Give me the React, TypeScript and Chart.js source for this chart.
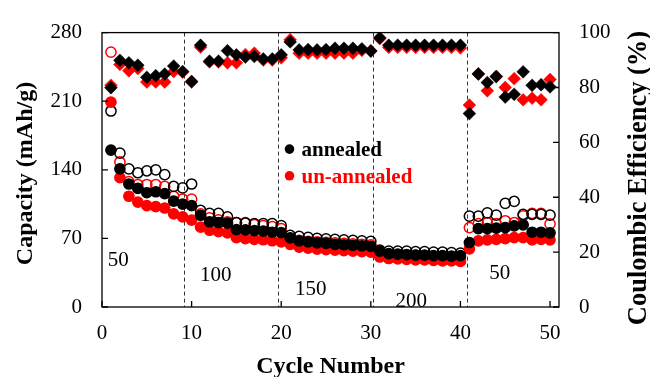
import React, { useEffect, useRef } from "react";
import { Chart, registerables } from "chart.js";

Chart.register(...registerables);

const cycles = [
  1, 2, 3, 4, 5, 6, 7, 8, 9, 10, 11, 12, 13, 14, 15, 16, 17, 18, 19, 20, 21, 22, 23, 24, 25,
  26, 27, 28, 29, 30, 31, 32, 33, 34, 35, 36, 37, 38, 39, 40, 41, 42, 43, 44, 45, 46, 47, 48, 49, 50,
];

// open black circles
const annealedDischarge = [
  200, 157, 141, 137, 139, 140, 135, 123, 121.5, 125.5, 98.5, 95.5, 95.5, 92, 86, 85.5, 85, 85, 85, 83,
  73, 72, 71, 70, 69.5, 69, 68.5, 68, 67.5, 67, 58, 57, 57, 57, 56.5, 56.5, 56, 56, 55.5, 55,
  92.7, 92.7, 96, 93.7, 105.8, 107.7, 94.6, 94.6, 94.6, 93.7,
];
// filled black circles
const annealedCharge = [
  160, 141, 125.5, 121, 116.6, 117.6, 115.6, 108, 105, 103.5, 93.6, 87, 86, 85.5, 79, 78.6, 78, 77.5, 76.3, 75.8,
  70.5, 67.5, 66.5, 65.5, 65, 64, 63.5, 63, 62.5, 62, 57, 54.5, 54, 53.5, 53, 53, 52.5, 52.5, 52, 52.5,
  65.8, 80, 80, 80.5, 81, 82.8, 83.8, 76.3, 76.3, 75.7,
];
// open red circles
const unannealedDischarge = [
  260, 148, 128, 125, 125, 125, 123, 113, 110, 110, 95, 91, 89, 87, 86, 86, 84, 83, 82, 80,
  70, 68, 67, 66.5, 66, 65.5, 65, 64.5, 64, 63.5, 55, 54, 53.5, 53, 53, 52.5, 52, 52, 51.5, 51.5,
  81, 85, 86, 85, 88, 86, 93, 95.6, 95.6, 84.8,
];
// filled red circles
const unannealedCharge = [
  209, 132, 113, 107, 103.5, 102.5, 101, 95, 92, 88.7, 81.5, 78.3, 77, 75.6, 70.7, 69.8, 69, 68.6, 67.6, 66.5,
  64, 61, 60, 59, 58.5, 58, 57.5, 57, 56.5, 56, 51, 49.5, 49, 48.5, 48, 48, 47.5, 47, 47, 46.5,
  59.2, 67.5, 68.5, 69, 69.7, 70.7, 70.7, 68.5, 69, 68.5,
];
// black diamonds (%)
const annealedCE = [
  79.9, 89.9, 89, 88.1, 83.7, 84.3, 84.9, 87.8, 85.8, 82.2, 95.4, 89.6, 89.6, 93.4, 91.9, 91.1, 91.3, 90.4, 90.4, 91.9,
  96.6, 93.7, 93.8, 93.7, 93.8, 94.3, 94.3, 94.3, 94.1, 93.3, 98.1, 95.4, 95.4, 95.4, 95.4, 95.4, 95.4, 95.4, 95.4, 95.4,
  70.5, 84.9, 81.8, 84, 76.5, 77.5, 85.7, 80.8, 81, 80.2,
];
// red diamonds (%)
const unannealedCE = [
  80.8, 88.4, 86.1, 86.9, 82, 82, 82, 85.8, 85.6, 82, 94.7, 89.3, 89.3, 89, 89, 92, 92.5, 90, 90, 90.8,
  97.4, 92.5, 92.5, 92.5, 92.5, 92.5, 92.5, 92.5, 93.5, 93.3, 97.8, 94.6, 94.6, 94.6, 94.6, 94.6, 94.6, 94.6, 94.6, 94.4,
  73.6, 85, 78.8, 84, 80, 83.2, 75.5, 76.1, 75.5, 82.9,
];

const rateBoundaries = [9.2, 19.6, 30.2, 40.7];
const rateLabels = ["50", "100", "150", "200", "50"];
const rateLabelX = [1.8, 12.7, 23.3, 34.5, 44.4];
const rateLabelY = [47, 32, 17.5, 6, 34];
const legendLabels = ["annealed", "un-annealed"];
const legendColors = ["#000000", "#ff0000"];

const SERIF = "'Liberation Serif', 'Times New Roman', serif";

function pts(ys: number[]) {
  return cycles.map((c, i) => ({ x: c, y: ys[i] }));
}

const decorPlugin = {
  id: "decor",
  beforeDatasetsDraw(chart: any) {
    const { ctx, chartArea } = chart;
    const xs = chart.scales.x;
    ctx.save();
    ctx.strokeStyle = "#333";
    ctx.lineWidth = 1;
    ctx.setLineDash([4, 3]);
    rateBoundaries.forEach((b) => {
      const px = Math.round(xs.getPixelForValue(b)) + 0.5;
      ctx.beginPath();
      ctx.moveTo(px, chartArea.top);
      ctx.lineTo(px, chartArea.bottom);
      ctx.stroke();
    });
    ctx.restore();
  },
  afterDatasetsDraw(chart: any) {
    const { ctx, chartArea } = chart;
    const xs = chart.scales.x;
    const yl = chart.scales.y;
    const yr = chart.scales.y1;
    ctx.save();
    // frame
    ctx.strokeStyle = "#000";
    ctx.lineWidth = 1.3;
    ctx.setLineDash([]);
    ctx.strokeRect(chartArea.left, chartArea.top, chartArea.right - chartArea.left, chartArea.bottom - chartArea.top);
    // inward ticks
    const tl = 6;
    ctx.beginPath();
    xs.ticks.forEach((t: any) => {
      const px = xs.getPixelForValue(t.value);
      ctx.moveTo(px, chartArea.bottom);
      ctx.lineTo(px, chartArea.bottom - tl);
    });
    yl.ticks.forEach((t: any) => {
      const py = yl.getPixelForValue(t.value);
      ctx.moveTo(chartArea.left, py);
      ctx.lineTo(chartArea.left + tl, py);
    });
    yr.ticks.forEach((t: any) => {
      const py = yr.getPixelForValue(t.value);
      ctx.moveTo(chartArea.right, py);
      ctx.lineTo(chartArea.right - tl, py);
    });
    ctx.stroke();

    // rate annotations
    ctx.fillStyle = "#000";
    ctx.font = `21px ${SERIF}`;
    ctx.textAlign = "center";
    ctx.textBaseline = "middle";
    rateLabels.forEach((lab, i) => {
      ctx.fillText(lab, xs.getPixelForValue(rateLabelX[i]), yl.getPixelForValue(rateLabelY[i]));
    });

    // legend
    const lx = chartArea.left + 187.5;
    const ly = chartArea.top + 116.5;
    legendLabels.forEach((lab, i) => {
      const y = ly + i * 26.7;
      ctx.fillStyle = legendColors[i];
      ctx.beginPath();
      ctx.arc(lx, y, 4.8, 0, Math.PI * 2);
      ctx.fill();
      ctx.font = `bold 21px ${SERIF}`;
      ctx.textAlign = "left";
      ctx.textBaseline = "alphabetic";
      ctx.fillText(lab, lx + 12, y + 6.7);
    });

    // axis titles
    ctx.fillStyle = "#000";
    ctx.font = `bold 24px ${SERIF}`;
    ctx.textAlign = "center";
    ctx.textBaseline = "alphabetic";
    ctx.fillText("Cycle Number", (chartArea.left + chartArea.right) / 2, 372.5);

    ctx.save();
    ctx.translate(32, 173.5);
    ctx.rotate(-Math.PI / 2);
    ctx.fillText("Capacity (mAh/g)", 0, 0);
    ctx.restore();

    ctx.save();
    ctx.font = `bold 26.5px ${SERIF}`;
    ctx.translate(646, 178);
    ctx.rotate(-Math.PI / 2);
    ctx.fillText("Coulombic Efficiency (%)", 0, 0);
    ctx.restore();

    ctx.restore();
  },
};

export default function App() {
  const ref = useRef<HTMLCanvasElement | null>(null);
  useEffect(() => {
    if (!ref.current) return;
    Chart.defaults.font.family = SERIF;
    Chart.defaults.color = "#000";
    const circle = (color: string, filled: boolean) => ({
      pointStyle: "circle",
      pointRadius: 5.1,
      pointHoverRadius: 5.1,
      pointBorderWidth: 1.5,
      borderColor: color,
      backgroundColor: filled ? color : "rgba(0,0,0,0)",
      pointBorderColor: color,
      pointBackgroundColor: filled ? color : "rgba(0,0,0,0)",
      showLine: false,
    });
    const diamond = (color: string) => ({
      pointStyle: "rectRot",
      pointRadius: 6.4,
      pointHoverRadius: 6.4,
      pointBorderWidth: 0.5,
      borderColor: color,
      backgroundColor: color,
      pointBorderColor: color,
      pointBackgroundColor: color,
      showLine: false,
      yAxisID: "y1",
    });
    const chart = new Chart(ref.current, {
      type: "scatter",
      data: {
        datasets: [
          { label: "annealed CE", data: pts(annealedCE), ...diamond("#000000") },
          { label: "un-annealed CE", data: pts(unannealedCE), ...diamond("#ff0000") },
          { label: "annealed charge", data: pts(annealedCharge), yAxisID: "y", ...circle("#000000", true) },
          { label: "un-annealed charge", data: pts(unannealedCharge), yAxisID: "y", ...circle("#ff0000", true) },
          { label: "annealed discharge", data: pts(annealedDischarge), yAxisID: "y", ...circle("#000000", false) },
          { label: "un-annealed discharge", data: pts(unannealedDischarge), yAxisID: "y", ...circle("#ff0000", false) },
        ] as any,
      },
      options: {
        animation: false,
        responsive: false,
        maintainAspectRatio: false,
        layout: { padding: { top: 22, left: 0, right: 0, bottom: 0 } },
        plugins: { legend: { display: false }, tooltip: { enabled: false } },
        scales: {
          x: {
            type: "linear",
            min: 0,
            max: 51,
            grid: { display: false, drawTicks: false },
            border: { display: false },
            ticks: { stepSize: 10, includeBounds: false, padding: 14, font: { size: 21 }, color: "#000", maxRotation: 0 },
            afterFit: (s: any) => { s.height = 70; },
          },
          y: {
            type: "linear",
            position: "left",
            min: 0,
            max: 280,
            grid: { display: false, drawTicks: false },
            border: { display: false },
            ticks: { stepSize: 70, padding: 20, font: { size: 21 }, color: "#000" },
            afterFit: (s: any) => { s.width = 102; },
          },
          y1: {
            type: "linear",
            position: "right",
            min: 0,
            max: 100,
            grid: { display: false, drawTicks: false },
            border: { display: false },
            ticks: { stepSize: 20, padding: 20, font: { size: 21 }, color: "#000" },
            afterFit: (s: any) => { s.width = 91; },
          },
        },
      } as any,
      plugins: [decorPlugin],
    });
    return () => chart.destroy();
  }, []);
  return (
    <div style={{ position: "absolute", left: 0, top: 0, width: 650, height: 377, background: "#fff" }}>
      <canvas ref={ref} width={650} height={377} style={{ display: "block" }} />
    </div>
  );
}
